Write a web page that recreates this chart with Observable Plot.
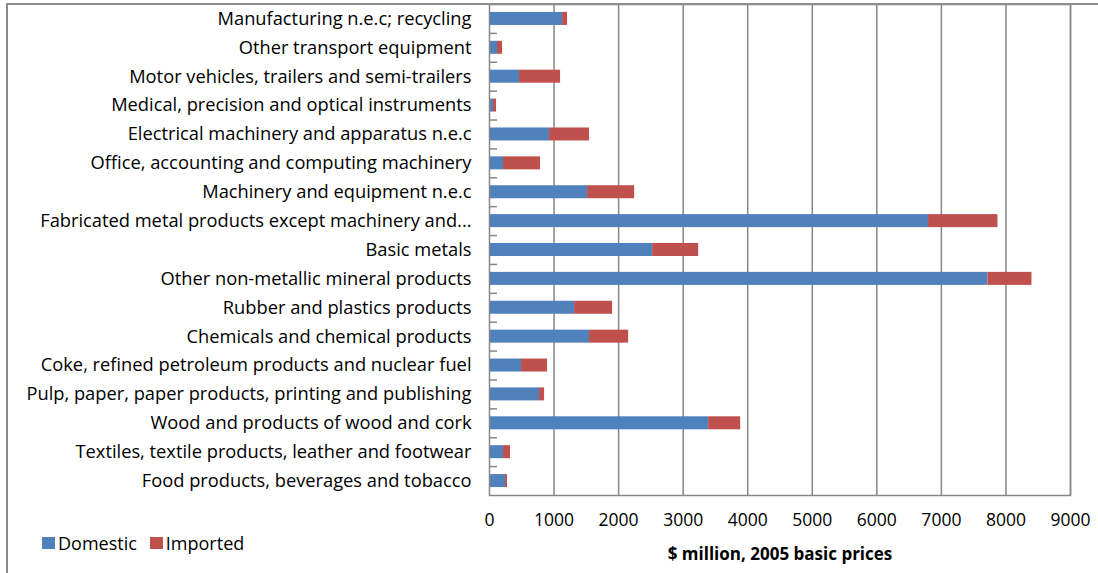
<!DOCTYPE html>
<html>
<head>
<meta charset="utf-8">
<script src="https://cdn.jsdelivr.net/npm/d3@7"></script>
<script src="https://cdn.jsdelivr.net/npm/@observablehq/plot@0.6"></script>
<style>
  html, body { margin: 0; padding: 0; background: #fff; }
  #wrap { position: relative; width: 1098px; height: 573px; overflow: hidden; }
  #frame { position: absolute; left: 6px; top: 3px; width: 1200px; height: 700px;
           border-left: 2px solid #8c8c8c; border-top: 2px solid #8c8c8c; pointer-events: none; }
  #legend { position: absolute; left: 42px; top: 531px; font-family: "Open Sans", sans-serif;
            font-size: 18px; color: #000; display: flex; align-items: center; }
  #legend .sw { display: inline-block; width: 13px; height: 12px; margin-right: 3px; }
  #legend .item { display: flex; align-items: center; margin-right: 13px; }
  #chart { position: absolute; left: 0; top: 0; }
</style>
</head>
<body>
<div id="wrap">
  <div id="chart"></div>
  <div id="frame"></div>
  <div id="legend"></div>
</div>
<script>
const categories = [
  "Manufacturing n.e.c; recycling",
  "Other transport equipment",
  "Motor vehicles, trailers and semi-trailers",
  "Medical, precision and optical instruments",
  "Electrical machinery and apparatus n.e.c",
  "Office, accounting and computing machinery",
  "Machinery and equipment n.e.c",
  "Fabricated metal products except machinery and...",
  "Basic metals",
  "Other non-metallic mineral products",
  "Rubber and plastics products",
  "Chemicals and chemical products",
  "Coke, refined petroleum products and nuclear fuel",
  "Pulp, paper, paper products, printing and publishing",
  "Wood and products of wood and cork",
  "Textiles, textile products, leather and footwear",
  "Food products, beverages and tobacco"
];
const domestic = [1132, 124, 465, 62, 930, 217, 1519, 6801, 2527, 7721, 1318, 1550, 496, 775, 3395, 217, 248];
const imported = [77, 78, 636, 47, 620, 574, 729, 1075, 713, 682, 589, 605, 403, 78, 496, 109, 31];
const seriesNames = ["Domestic", "Imported"];
const seriesColors = ["#4F81BD", "#C0504D"];
const xTicks = [0, 1000, 2000, 3000, 4000, 5000, 6000, 7000, 8000, 9000];
const xTitle = "$ million, 2005 basic prices";

const rows = [];
categories.forEach((c, i) => {
  rows.push({category: c, series: "Domestic", value: domestic[i]});
  rows.push({category: c, series: "Imported", value: imported[i]});
});

const W = 1098, H = 573;
const mT = 4, mB = 78, mL = 489, mR = 28;
const step = (H - mT - mB) / categories.length;
const font = "'Open Sans', sans-serif";

const chart = Plot.plot({
  width: W,
  height: H,
  marginTop: mT,
  marginBottom: mB,
  marginLeft: mL,
  marginRight: mR,
  style: {fontFamily: font, fontSize: "17px", color: "#000", background: "transparent"},
  x: {domain: [0, 9000], ticks: xTicks, label: null, tickFormat: d3.format("d")},
  y: {domain: categories, paddingInner: 0.55, paddingOuter: 0.275, round: false, label: null},
  color: {domain: seriesNames, range: seriesColors},
  marks: [
    Plot.gridX(xTicks.slice(1), {stroke: "#868686", strokeOpacity: 1, strokeWidth: 1.5}),
    Plot.barX(rows, Plot.stackX({y: "category", x: "value", fill: "series", order: seriesNames})),
    Plot.frame({stroke: "#868686", strokeWidth: 1.5}),
    Plot.axisY(categories.slice(0, -1), {tickSize: -8, text: null, dy: step / 2, stroke: "#868686", strokeWidth: 1.5, label: null}),
    Plot.axisY({tickSize: 0, tickPadding: 18, fill: "#000", label: null, fontSize: 18.3}),
    Plot.axisX({ticks: xTicks, tickSize: 0, tickPadding: 18, fill: "#000", label: null, fontSize: 17.5, tickFormat: d3.format("d")}),
    Plot.text([xTitle], {text: d => d, frameAnchor: "bottom", dy: 64, fontWeight: "bold", fontSize: 17, fill: "#000"})
  ]
});
document.getElementById("chart").appendChild(chart);

const legend = document.getElementById("legend");
seriesNames.forEach((n, i) => {
  const item = document.createElement("span");
  item.className = "item";
  const sw = document.createElement("span");
  sw.className = "sw";
  sw.style.background = seriesColors[i];
  item.appendChild(sw);
  item.appendChild(document.createTextNode(n));
  legend.appendChild(item);
});
</script>
</body>
</html>
